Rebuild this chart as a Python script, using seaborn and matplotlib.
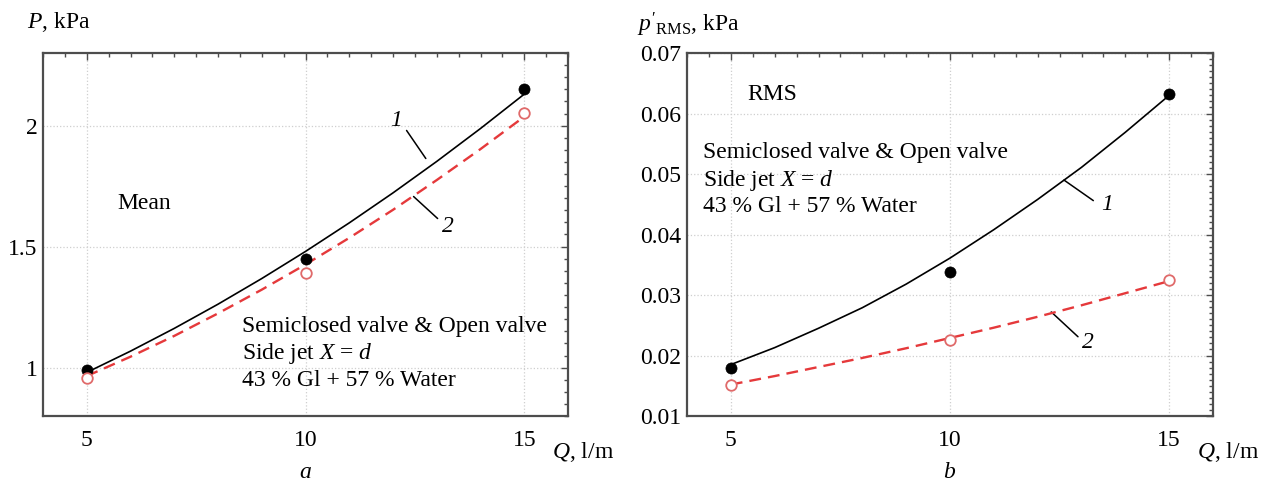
import matplotlib
matplotlib.use("Agg")
import matplotlib.pyplot as plt
from matplotlib.ticker import MultipleLocator, FixedLocator, FuncFormatter
import numpy as np
import pandas as pd
import seaborn as sns

# ---------------- data ----------------
q_points = [5, 10, 15]
mean_1 = [0.99, 1.45, 2.15]      # black filled
mean_2 = [0.958, 1.39, 2.054]    # red open
rms_1 = [0.018, 0.0338, 0.0633]
rms_2 = [0.0151, 0.0225, 0.0325]

q_curve = [5, 6, 7, 8, 9, 10, 11, 12, 13, 14, 15]
mean_curve_1 = [0.98, 1.068, 1.162, 1.262, 1.368, 1.48, 1.598, 1.722, 1.852, 1.988, 2.13]
mean_curve_2 = [0.965, 1.045, 1.131, 1.224, 1.322, 1.426, 1.536, 1.652, 1.775, 1.903, 2.037]
rms_curve_1 = [0.0185, 0.0213, 0.0245, 0.0279, 0.0318, 0.0361, 0.0408, 0.0458, 0.0511, 0.0569, 0.0630]
rms_curve_2 = [0.0152, 0.0166, 0.0181, 0.0196, 0.0212, 0.0229, 0.0246, 0.0264, 0.0283, 0.0303, 0.0323]

x_ticks = [5, 10, 15]
mean_ticks = [1, 1.5, 2]
rms_ticks = [0.01, 0.02, 0.03, 0.04, 0.05, 0.06, 0.07]

info_lines = ["Semiclosed valve & Open valve", "Side jet $X$ = $d$", "43 % Gl + 57 % Water"]

# ---------------- style ----------------
sns.set_theme(style="white")
plt.rcParams["font.family"] = ["Liberation Serif", "DejaVu Serif"]
plt.rcParams["mathtext.fontset"] = "custom"
plt.rcParams["mathtext.rm"] = "Liberation Serif"
plt.rcParams["mathtext.it"] = "Liberation Serif:italic"
plt.rcParams["mathtext.bf"] = "Liberation Serif:bold"
plt.rcParams["text.color"] = "black"
plt.rcParams["xtick.labelcolor"] = "black"
plt.rcParams["ytick.labelcolor"] = "black"

FS = 17
FRAME = "#4d4d4d"
RED = "#e5393b"
RED_EDGE = "#e06a6a"

fig = plt.figure(figsize=(12.71, 4.82), dpi=100)
ax1 = fig.add_axes([43 / 1271, 66 / 482, 525 / 1271, 363 / 482])
ax2 = fig.add_axes([687 / 1271, 66 / 482, 526 / 1271, 363 / 482])


def style_axis(ax, ylim, yticks, yminor, fmt):
    ax.set_xlim(4, 16)
    ax.set_ylim(*ylim)
    ax.xaxis.set_major_locator(FixedLocator(x_ticks))
    ax.xaxis.set_minor_locator(MultipleLocator(0.5))
    ax.yaxis.set_major_locator(FixedLocator(yticks))
    ax.yaxis.set_minor_locator(MultipleLocator(yminor))
    ax.yaxis.set_major_formatter(FuncFormatter(fmt))
    ax.tick_params(which="both", direction="in", top=True, right=True,
                   color=FRAME, width=1.0, labelsize=FS, labelcolor="black")
    ax.tick_params(which="major", length=5, pad=6)
    ax.tick_params(which="minor", length=3)
    ax.tick_params(axis="y", which="major", pad=4)
    ax.tick_params(axis="x", which="major", pad=10)
    for s in ax.spines.values():
        s.set_color(FRAME)
        s.set_linewidth(1.6)
    ax.grid(True, which="major", color="#cfcfcf", linestyle=":", linewidth=0.9)
    ax.set_axisbelow(True)
    ax.set_xlabel("")
    ax.set_ylabel("")


def draw(ax, pts1, pts2, c1, c2):
    d1 = pd.DataFrame({"Q": q_curve, "v": c1})
    d2 = pd.DataFrame({"Q": q_curve, "v": c2})
    sns.lineplot(data=d1, x="Q", y="v", ax=ax, color="black", linewidth=1.2, zorder=3)
    sns.lineplot(data=d2, x="Q", y="v", ax=ax, color=RED, linewidth=1.7, zorder=3)
    ax.lines[-1].set_dashes((5, 3))
    p1 = pd.DataFrame({"Q": q_points, "v": pts1})
    p2 = pd.DataFrame({"Q": q_points, "v": pts2})
    sns.scatterplot(data=p1, x="Q", y="v", ax=ax, color="black", s=64,
                    edgecolor="black", linewidth=0.5, zorder=4)
    sns.scatterplot(data=p2, x="Q", y="v", ax=ax, facecolor="white", s=58,
                    edgecolor=RED_EDGE, linewidth=1.3, zorder=4)


draw(ax1, mean_1, mean_2, mean_curve_1, mean_curve_2)
draw(ax2, rms_1, rms_2, rms_curve_1, rms_curve_2)

style_axis(ax1, (0.8, 2.3), mean_ticks, 0.05, lambda v, p: f"{v:g}")
style_axis(ax2, (0.01, 0.07), rms_ticks, 0.001, lambda v, p: f"{v:.2f}")

# ---------- panel a annotations ----------
ax1.text(5.71, 1.68, "Mean", fontsize=FS, ha="left", va="center")
for txt, yy in zip(info_lines, [1.17, 1.058, 0.946]):
    ax1.text(8.54, yy, txt, fontsize=FS, ha="left", va="center")
ax1.plot([12.31, 12.75], [1.98, 1.864], color="black", linewidth=1.1)
ax1.text(12.08, 2.02, "1", fontsize=FS, style="italic", ha="center", va="center")
ax1.plot([12.47, 13.02], [1.707, 1.616], color="black", linewidth=1.1)
ax1.text(13.25, 1.585, "2", fontsize=FS, style="italic", ha="center", va="center")

# ---------- panel b annotations ----------
ax2.text(5.37, 0.0631, "RMS", fontsize=FS, ha="left", va="center")
for txt, yy in zip(info_lines, [0.0535, 0.0490, 0.0447]):
    ax2.text(4.36, yy, txt, fontsize=FS, ha="left", va="center")
ax2.plot([12.60, 13.27], [0.0490, 0.0456], color="black", linewidth=1.1)
ax2.text(13.58, 0.0449, "1", fontsize=FS, style="italic", ha="center", va="center")
ax2.plot([12.31, 12.92], [0.0272, 0.0231], color="black", linewidth=1.1)
ax2.text(13.15, 0.0222, "2", fontsize=FS, style="italic", ha="center", va="center")

# ---------- axis titles and captions ----------
fig.text(27 / 1271, 1 - 22 / 482, "$P$, kPa", fontsize=FS, ha="left", va="center")
fig.text(637 / 1271, 1 - 25 / 482, r"$p'_{\mathrm{RMS}}$, kPa", fontsize=FS, ha="left", va="center")
fig.text(552 / 1271, 1 - 452 / 482, "$Q$, l/m", fontsize=FS, ha="left", va="center")
fig.text(1197 / 1271, 1 - 452 / 482, "$Q$, l/m", fontsize=FS, ha="left", va="center")
fig.text(305 / 1271, 1 - 473 / 482, "$a$", fontsize=FS, ha="center", va="center")
fig.text(950 / 1271, 1 - 473 / 482, "$b$", fontsize=FS, ha="center", va="center")

fig.savefig("out.png", dpi=100, facecolor="white")
